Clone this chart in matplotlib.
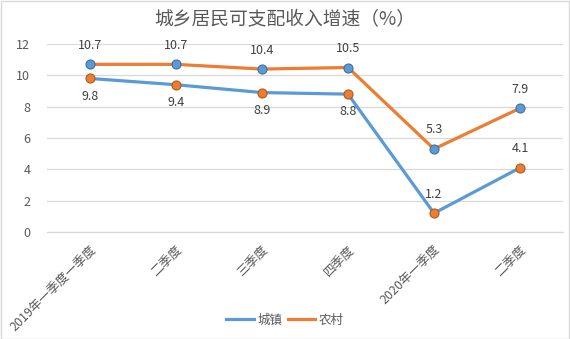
import matplotlib
matplotlib.use("Agg")
import matplotlib.pyplot as plt
from matplotlib.patches import Rectangle
from matplotlib.lines import Line2D
from matplotlib.transforms import ScaledTranslation

plt.rcParams['font.family'] = ['Noto Sans CJK SC', 'DejaVu Sans']

categories = ["2019年一季度一季度", "二季度", "三季度", "四季度", "2020年一季度", "二季度"]
urban = [9.8, 9.4, 8.9, 8.8, 1.2, 4.1]      # 城镇 (blue line)
rural = [10.7, 10.7, 10.4, 10.5, 5.3, 7.9]  # 农村 (orange line)
yticks = [0, 2, 4, 6, 8, 10, 12]

blue = "#5B9BD5"
orange = "#ED7D31"
blue_edge = "#41719C"
orange_edge = "#AE5A21"

fig = plt.figure(figsize=(5.7, 3.39), dpi=100)
fig.patches.append(Rectangle((0.001, 0.001), 0.997, 0.996, transform=fig.transFigure,
                             fill=False, edgecolor="#D9D9D9", linewidth=1.0))
ax = fig.add_axes([47/570, 1-232/339, 516/570, (232-44)/339])

x = list(range(len(categories)))
ax.plot(x, urban, color=blue, lw=2.3, marker="o", ms=6.5,
        markerfacecolor=orange, markeredgecolor=orange_edge, markeredgewidth=0.8,
        zorder=3, solid_capstyle="round")
ax.plot(x, rural, color=orange, lw=2.3, marker="o", ms=6.5,
        markerfacecolor=blue, markeredgecolor=blue_edge, markeredgewidth=0.8,
        zorder=3, solid_capstyle="round")

for i, v in enumerate(rural):
    ax.annotate(f"{v:g}", (i, v), xytext=(0, 9), textcoords="offset points",
                ha="center", va="bottom", fontsize=9, color="#404040")
for i, v in enumerate(urban):
    if i < 4:
        ax.annotate(f"{v:g}", (i, v), xytext=(0, -8), textcoords="offset points",
                    ha="center", va="top", fontsize=9, color="#404040")
    else:
        ax.annotate(f"{v:g}", (i, v), xytext=(0, 9), textcoords="offset points",
                    ha="center", va="bottom", fontsize=9, color="#404040")

ax.set_xlim(-0.5, len(categories) - 0.5)
ax.set_ylim(0, 12)
ax.set_yticks(yticks)
ax.set_yticklabels([str(t) for t in yticks], fontsize=9, color="#595959")
ax.set_xticks(x)
ax.set_xticklabels(categories, fontsize=9, color="#595959", rotation=45,
                   ha="right", va="top", rotation_mode="anchor")
shift = ScaledTranslation(6/100, 0, fig.dpi_scale_trans)
for lbl in ax.get_xticklabels():
    lbl.set_transform(lbl.get_transform() + shift)
ax.tick_params(axis="both", length=0)
ax.tick_params(axis="y", pad=12)
ax.tick_params(axis="x", pad=8)
ax.grid(axis="y", color="#D9D9D9", lw=0.9)
ax.set_axisbelow(True)
for s in ["top", "right", "left"]:
    ax.spines[s].set_visible(False)
ax.spines["bottom"].set_color("#D9D9D9")
ax.spines["bottom"].set_linewidth(0.9)

fig.text(0.5, 1-20/339, "城乡居民可支配收入增速（%）", ha="center", va="center",
         fontsize=13.5, color="#595959")

handles = [Line2D([], [], color=blue, lw=2.3), Line2D([], [], color=orange, lw=2.3)]
fig.legend(handles, ["城镇", "农村"], loc="center", bbox_to_anchor=(0.5, 1-320/339),
           ncol=2, frameon=False, fontsize=9, handlelength=2.2, handletextpad=0.3,
           columnspacing=0.4, labelcolor="#595959")

fig.savefig("out.png", dpi=100)
